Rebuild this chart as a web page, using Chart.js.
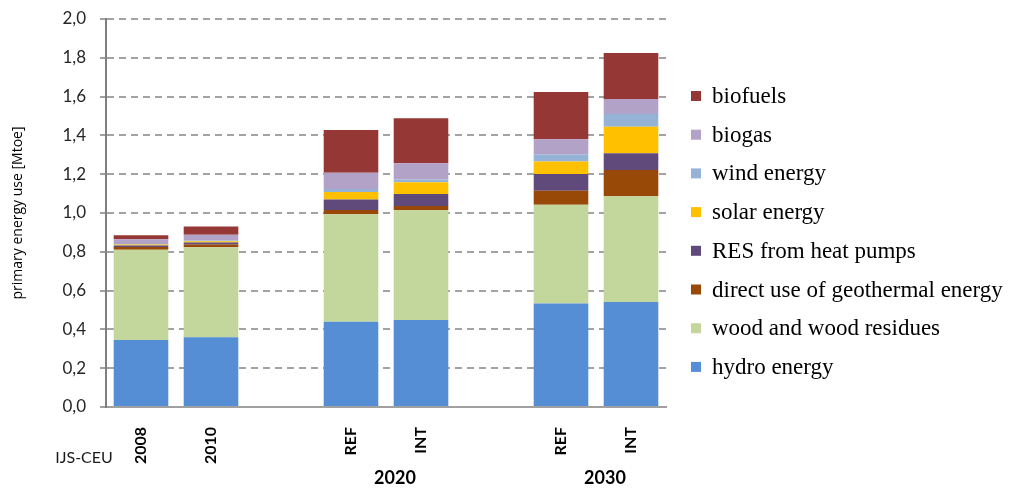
<!DOCTYPE html>
<html>
<head>
<meta charset="utf-8">
<script src="https://cdn.jsdelivr.net/npm/chart.js@4/dist/chart.umd.min.js"></script>
<style>
  html, body { margin: 0; padding: 0; background: #fff; }
  #wrap { width: 1011px; height: 489px; }
</style>
</head>
<body>
<div id="wrap"><canvas id="barChart"></canvas></div>
<script>
// categories (empty slots keep the gaps between the year groups)
var categories = ['2008', '2010', '', 'REF', 'INT', '', 'REF', 'INT'];
var groupLabels = ['2020', '2030'];
var groupIndex = [[3, 4], [6, 7]];
var yTicks = [0, 0.2, 0.4, 0.6, 0.8, 1.0, 1.2, 1.4, 1.6, 1.8, 2.0];

// series values [Mtoe], bottom to top
var hydro      = [0.345, 0.360, null, 0.440, 0.448, null, 0.533, 0.541];
var wood       = [0.465, 0.463, null, 0.553, 0.566, null, 0.510, 0.545];
var geothermal = [0.015, 0.015, null, 0.022, 0.022, null, 0.072, 0.136];
var heatPumps  = [0.008, 0.010, null, 0.055, 0.062, null, 0.086, 0.086];
var solar      = [0.005, 0.007, null, 0.038, 0.060, null, 0.065, 0.137];
var wind       = [0.002, 0.003, null, 0.016, 0.015, null, 0.036, 0.065];
var biogas     = [0.025, 0.030, null, 0.084, 0.083, null, 0.078, 0.078];
var biofuels   = [0.020, 0.043, null, 0.220, 0.232, null, 0.244, 0.237];

var font = 'Lato, "Open Sans", sans-serif';

// group labels under the category labels, plus the legend on the right
var extrasPlugin = {
  id: 'extras',
  afterDraw: function(chart) {
    var ctx = chart.ctx;
    var x = chart.scales.x;
    ctx.save();
    ctx.fillStyle = '#000';
    ctx.textAlign = 'center';
    ctx.textBaseline = 'middle';
    ctx.font = 'bold 18px ' + font;
    groupIndex.forEach(function(pair, i) {
      var mid = (x.getPixelForValue(pair[0]) + x.getPixelForValue(pair[1])) / 2 + 9;
      ctx.fillText(groupLabels[i], mid, 478);
    });
    ctx.font = '16px ' + font;
    ctx.fillStyle = '#1a1a1a';
    ctx.fillText('IJS-CEU', 84, 458);

    // legend, top item = last dataset
    var sets = chart.data.datasets.slice().reverse();
    ctx.textAlign = 'left';
    ctx.font = '23px "Liberation Serif", "Times New Roman", serif';
    sets.forEach(function(ds, i) {
      var y = 97 + i * 38.7;
      ctx.fillStyle = ds.backgroundColor;
      ctx.fillRect(691, y - 6, 10, 10);
      ctx.fillStyle = '#000';
      ctx.fillText(ds.label, 712, y);
    });
    ctx.restore();
  }
};

var ctx = document.getElementById('barChart').getContext('2d');
var myChart = new Chart(ctx, {
  type: 'bar',
  data: {
    labels: categories,
    datasets: [
      { label: 'hydro energy', data: hydro, backgroundColor: '#558ED5' },
      { label: 'wood and wood residues', data: wood, backgroundColor: '#C3D69B' },
      { label: 'direct use of geothermal energy', data: geothermal, backgroundColor: '#984807' },
      { label: 'RES from heat pumps', data: heatPumps, backgroundColor: '#604A7B' },
      { label: 'solar energy', data: solar, backgroundColor: '#FFC000' },
      { label: 'wind energy', data: wind, backgroundColor: '#95B3D7' },
      { label: 'biogas', data: biogas, backgroundColor: '#B3A2C7' },
      { label: 'biofuels', data: biofuels, backgroundColor: '#953735' }
    ]
  },
  options: {
    responsive: true,
    maintainAspectRatio: false,
    animation: false,
    layout: { padding: { top: 19, bottom: 0, left: 0, right: 345 } },
    datasets: { bar: { categoryPercentage: 1, barPercentage: 0.78, borderWidth: 0 } },
    plugins: {
      tooltip: { enabled: false },
      legend: { display: false }
    },
    scales: {
      x: {
        stacked: true,
        grid: { display: false, drawTicks: false },
        border: { display: true, color: '#a0a0a0', width: 2 },
        ticks: {
          autoSkip: false,
          maxRotation: 90,
          minRotation: 90,
          padding: 20,
          color: '#000',
          font: { family: font, size: 16, weight: 'bold' }
        },
        afterFit: function(s) { s.height = 82; }
      },
      y: {
        stacked: true,
        min: 0,
        max: 2,
        afterBuildTicks: function(s) { s.ticks = yTicks.map(function(v) { return { value: v }; }); },
        ticks: {
          padding: 14,
          color: '#262626',
          font: { family: font, size: 17 },
          callback: function(v) { return v.toFixed(1).replace('.', ','); }
        },
        grid: {
          color: '#a3a3a3',
          lineWidth: 2,
          tickLength: 6,
          tickColor: '#808080',
          tickWidth: 1.5,
          tickBorderDash: []
        },
        border: { color: '#7f7f7f', width: 2, dash: [7, 5] },
        title: {
          display: true,
          text: 'primary energy use [Mtoe]',
          color: '#000',
          padding: { top: 10, bottom: 0 },
          font: { family: '"Open Sans", sans-serif', size: 14 }
        },
        afterFit: function(s) {
          s.width = 106;
          s.paddingTop = 0;
          s.paddingBottom = 0;
        }
      }
    }
  },
  plugins: [extrasPlugin]
});
</script>
</body>
</html>
